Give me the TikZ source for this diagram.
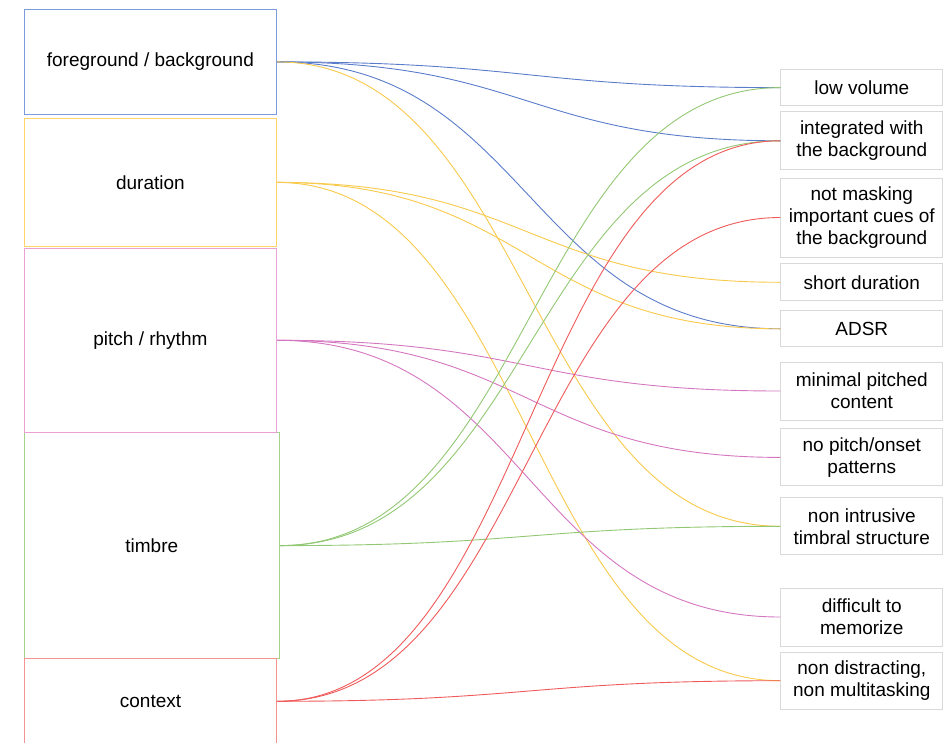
\documentclass[tikz,border=0pt]{standalone}
\usepackage{fontspec}
\setmainfont{Liberation Sans}
\definecolor{cblueb}{HTML}{7B9BDD}
\definecolor{cbluel}{HTML}{5A7CCB}
\definecolor{cyel}{HTML}{FFD466}
\definecolor{cyell}{HTML}{F8C94A}
\definecolor{cpinkb}{HTML}{EBA0D8}
\definecolor{cpinkl}{HTML}{D576C0}
\definecolor{cgreenb}{HTML}{A4D38A}
\definecolor{cgreenl}{HTML}{92C873}
\definecolor{credb}{HTML}{F59393}
\definecolor{credl}{HTML}{F05A5A}
\definecolor{cgray}{HTML}{D9D9D9}
\begin{document}
\begin{tikzpicture}[x=1pt,y=-1pt,
  txt/.style={font=\fontsize{19}{22}\selectfont, align=center, inner sep=0pt},
  lbox/.style={txt, draw, line width=1pt},
  rbox/.style={txt, draw=cgray, line width=1pt, minimum width=162pt},
  lnk/.style={line width=0.9pt}]
\clip (0,0) rectangle (944,742);
\useasboundingbox (0,0) rectangle (944,742);
% left boxes
\node[lbox, draw=cblueb, minimum width=252.2pt, minimum height=104.3pt] (fg) at (150.4,61.9) {foreground / background};
\node[lbox, draw=cyel, minimum width=252.2pt, minimum height=128.2pt] (du) at (150.4,182.4) {duration};
\node[lbox, draw=cgreenb, minimum width=255pt, minimum height=226.7pt] (ti) at (151.8,545.6) {timbre};
\node[lbox, draw=cpinkb, minimum width=252.2pt, minimum height=184pt] (pi) at (150.4,340.3) {pitch / rhythm};
\node[lbox, draw=credb, minimum width=252.4pt, minimum height=86pt] (co) at (150.5,701.3) {context};
% right boxes
\node[rbox, minimum height=36.5pt] (lv) at (861.8,87.6) {low volume};
\node[rbox, minimum height=58pt] (ig) at (861.8,140.8) {integrated with\\the background};
\node[rbox, minimum height=79pt] (nm) at (861.8,217.5) {not masking\\important cues of\\the background};
\node[rbox, minimum height=37pt] (sd) at (861.8,282.3) {short duration};
\node[rbox, minimum height=36pt] (ad) at (861.8,328.8) {ADSR};
\node[rbox, minimum height=58pt] (mp) at (861.8,391) {minimal pitched\\content};
\node[rbox, minimum height=57pt] (np) at (861.8,457.4) {no pitch/onset\\patterns};
\node[rbox, minimum height=57pt] (ni) at (861.8,526.3) {non intrusive\\timbral structure};
\node[rbox, minimum height=58pt] (dm) at (861.8,617) {difficult to\\memorize};
\node[rbox, minimum height=57pt] (nd) at (861.8,680.7) {non distracting,\\non multitasking};
% links
\foreach \t in {lv,ig,ad}
  \draw[lnk, cbluel] (fg.east) .. controls +(252,0) and +(-252,0) .. (\t.west);
\draw[lnk, cyell] (fg.east) .. controls +(252,0) and +(-252,0) .. (ni.west);
\foreach \t in {sd,ad,nd}
  \draw[lnk, cyell] (du.east) .. controls +(252,0) and +(-252,0) .. (\t.west);
\foreach \t in {mp,np,dm}
  \draw[lnk, cpinkl] (pi.east) .. controls +(252,0) and +(-252,0) .. (\t.west);
\foreach \t in {lv,ig,ni}
  \draw[lnk, cgreenl] (ti.east) .. controls +(250,0) and +(-250,0) .. (\t.west);
\foreach \t in {ig,nm,nd}
  \draw[lnk, credl] (co.east) .. controls +(252,0) and +(-252,0) .. (\t.west);
\end{tikzpicture}
\end{document}
